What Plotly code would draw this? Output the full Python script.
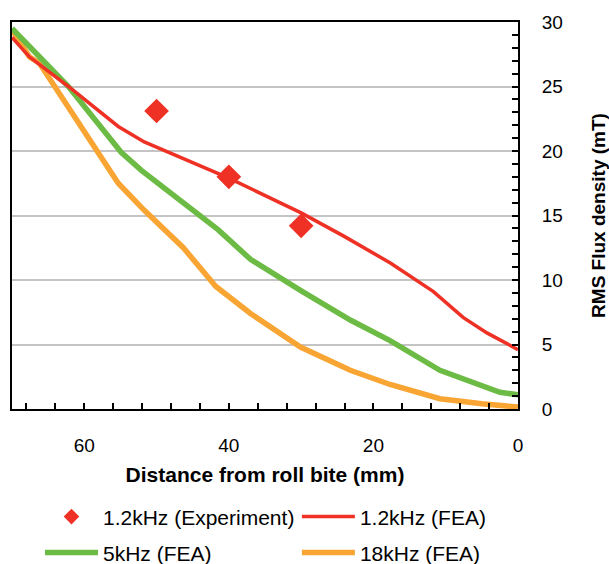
import plotly.graph_objects as go

# Data
x_exp = [50, 40, 30]
y_exp = [23.1, 18.0, 14.2]

x_red = [70, 67.6, 62.2, 55.3, 51.7, 40, 30, 24.1, 17.6, 11.7, 7.6, 4.3, 0]
y_red = [28.8, 27.3, 25.0, 21.9, 20.7, 17.9, 15.2, 13.4, 11.3, 9.1, 7.1, 5.9, 4.6]

x_green = [70, 67, 66, 62.2, 54.9, 52.1, 41.5, 37, 30.1, 23.2, 17.7, 10.8, 2.5, 0]
y_green = [29.5, 27.8, 27.3, 25.0, 19.9, 18.5, 13.9, 11.6, 9.2, 6.9, 5.3, 3.0, 1.3, 1.1]

x_orange = [70, 67.6, 66.2, 55.3, 51.7, 46.3, 41.8, 37, 30.1, 23.2, 17.7, 10.8, 5, 0]
y_orange = [29.4, 27.3, 26.8, 17.5, 15.4, 12.5, 9.5, 7.4, 4.8, 3.0, 1.9, 0.8, 0.4, 0.15]

x_ticks = [0, 20, 40, 60]
y_ticks = [0, 5, 10, 15, 20, 25, 30]

RED = "#EE3124"
GREEN = "#6CBB45"
ORANGE = "#F9A533"
FONT = "Liberation Sans, Arial, sans-serif"

fig = go.Figure()
fig.add_trace(go.Scatter(x=x_orange, y=y_orange, mode="lines", name="18kHz (FEA)",
                         line=dict(color=ORANGE, width=5.5), legend="legend4"))
fig.add_trace(go.Scatter(x=x_green, y=y_green, mode="lines", name="5kHz (FEA)",
                         line=dict(color=GREEN, width=5.5), legend="legend3"))
fig.add_trace(go.Scatter(x=x_red, y=y_red, mode="lines", name="1.2kHz (FEA)",
                         line=dict(color=RED, width=3.5), legend="legend2"))
fig.add_trace(go.Scatter(x=x_exp, y=y_exp, mode="markers", name="1.2kHz (Experiment)",
                         marker=dict(symbol="diamond", color=RED, size=19), legend="legend"))

legend_common = dict(orientation="h", itemwidth=53,
                     font=dict(family=FONT, size=21, color="#000"),
                     xanchor="left", yanchor="middle", bgcolor="rgba(0,0,0,0)")

COL1, COL2 = 0.0553, 0.563
ROW1, ROW2 = -0.279, -0.372

fig.update_layout(
    width=609, height=564,
    margin=dict(l=12, r=91, t=22, b=155, autoexpand=False),
    paper_bgcolor="white", plot_bgcolor="white",
    font=dict(family=FONT, size=19, color="#000"),
    showlegend=True,
    legend=dict(x=COL1, y=ROW1, itemsizing="constant", **legend_common),
    legend2=dict(x=COL2, y=ROW1, **legend_common),
    legend3=dict(x=COL1, y=ROW2, **legend_common),
    legend4=dict(x=COL2, y=ROW2, **legend_common),
    xaxis=dict(
        range=[70, 0], tickvals=x_ticks, ticks="inside", ticklen=6, tickwidth=1.5,
        tickcolor="#000", showline=True, linecolor="#000", linewidth=2, mirror=True,
        showgrid=False, zeroline=False, ticklabelstandoff=18, automargin=False,
        tickfont=dict(size=19),
        minor=dict(dtick=4, ticks="inside", ticklen=6, tickwidth=1.5, tickcolor="#000", showgrid=False),
        title=dict(text="<b>Distance from roll bite (mm)</b>", font=dict(size=21), standoff=13),
    ),
    yaxis=dict(
        range=[0, 30], tickvals=y_ticks, side="right", ticks="inside", ticklen=6, tickwidth=1.5,
        tickcolor="#000", showline=True, linecolor="#000", linewidth=2, mirror=True,
        showgrid=True, gridcolor="#C4C4C4", gridwidth=1.5, zeroline=False, automargin=False,
        ticklabelstandoff=18, tickfont=dict(size=19),
        minor=dict(dtick=1, ticks="inside", ticklen=6, tickwidth=1.5, tickcolor="#000", showgrid=False),
        title=dict(text="<b>RMS Flux density (mT)</b>", font=dict(size=19), standoff=41),
    ),
)

fig.write_html("out.html", config={"displayModeBar": False},
               post_script="document.body.style.margin='0';")
